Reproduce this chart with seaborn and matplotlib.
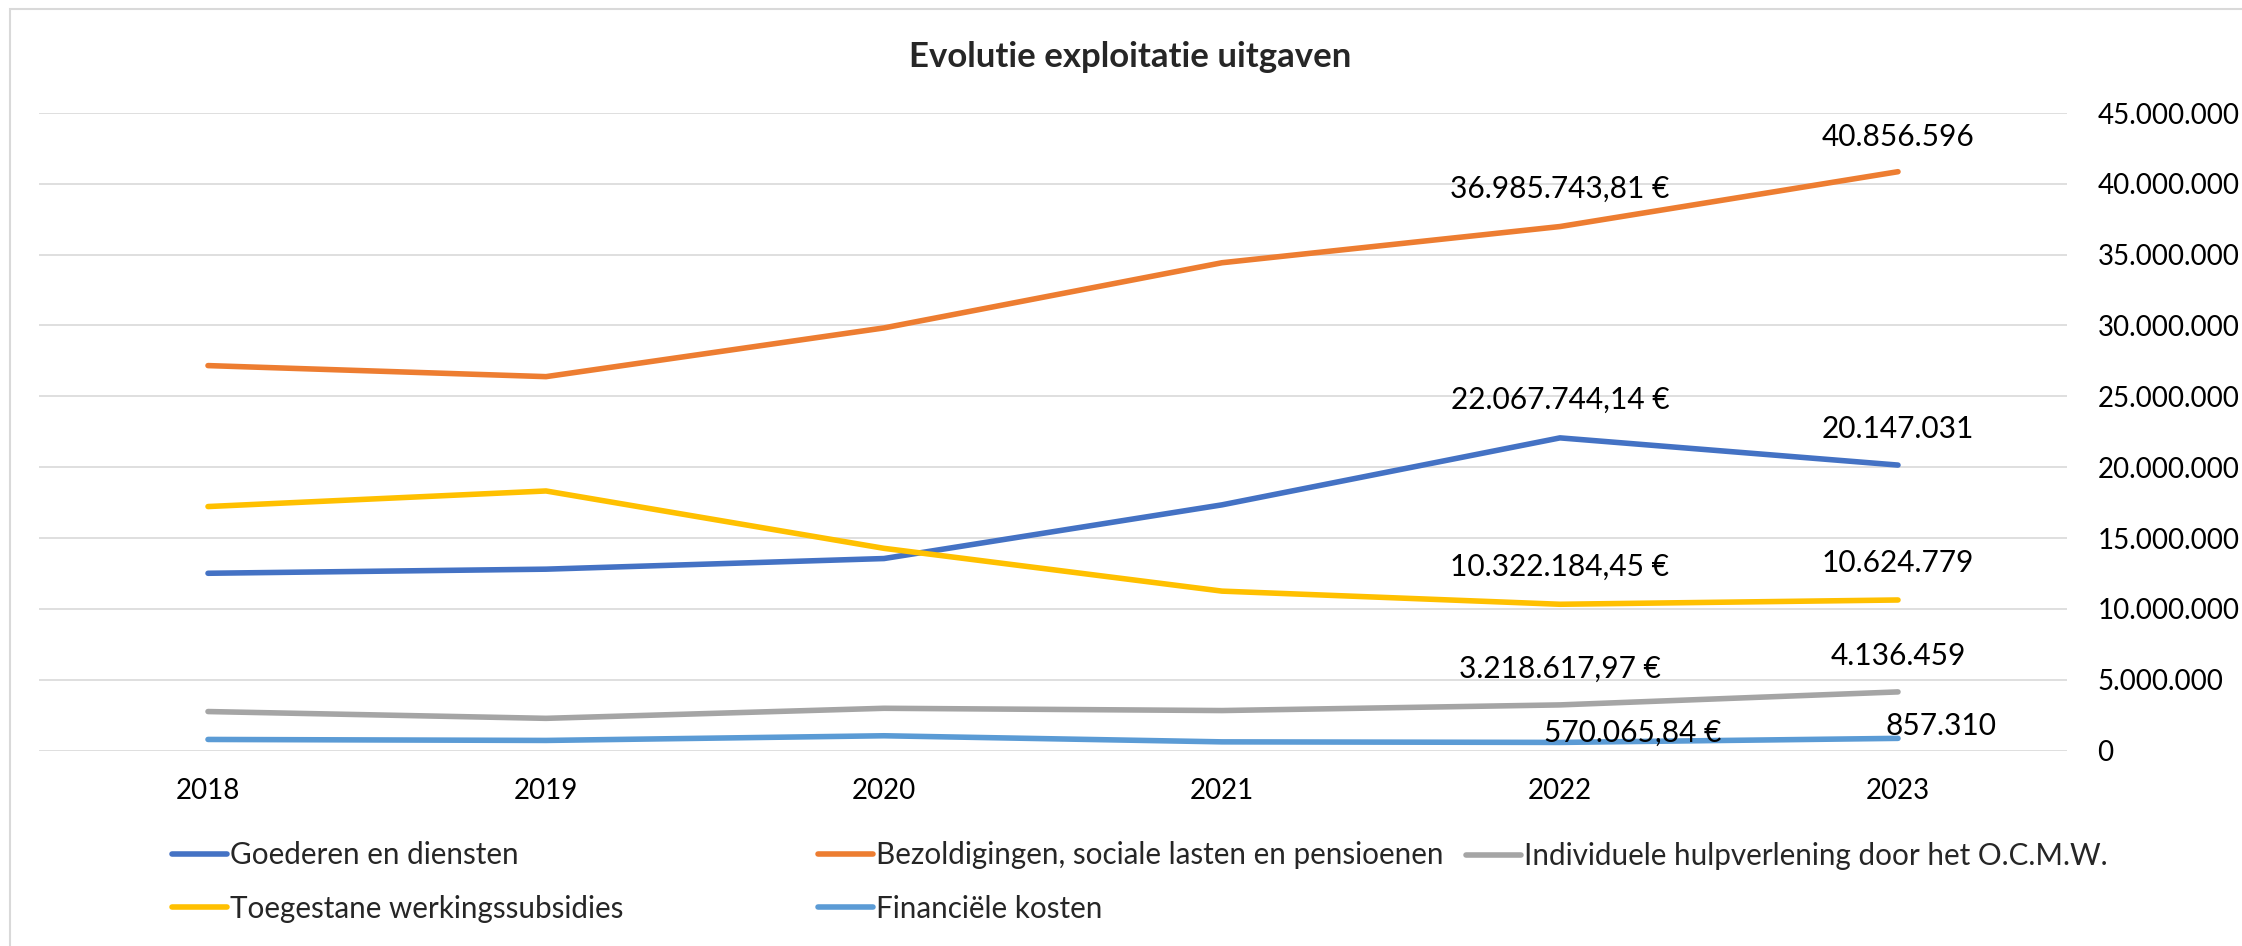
import matplotlib
matplotlib.use("Agg")
import matplotlib.pyplot as plt
import matplotlib.patches as patches
from matplotlib.lines import Line2D
from matplotlib.ticker import FuncFormatter
import pandas as pd
import seaborn as sns

# --- DATOS ---
jaren = ["2018", "2019", "2020", "2021", "2022", "2023"]

goederen = [12510000, 12800000, 13550000, 17340000, 22067744.14, 20147031]
bezoldigingen = [27170000, 26390000, 29830000, 34430000, 36985743.81, 40856596]
individuele = [2750000, 2270000, 2980000, 2820000, 3218617.97, 4136459]
toegestane = [17220000, 18320000, 14270000, 11250000, 10322184.45, 10624779]
financiele = [780000, 710000, 1040000, 610000, 570065.84, 857310]

reeksen = [
    "Goederen en diensten",
    "Bezoldigingen, sociale lasten en pensioenen",
    "Individuele hulpverlening door het O.C.M.W.",
    "Toegestane werkingssubsidies",
    "Financiële kosten",
]
waarden = [goederen, bezoldigingen, individuele, toegestane, financiele]
kleuren = ["#4472C4", "#ED7D31", "#A5A5A5", "#FFC000", "#5B9BD5"]

# lange tabel voor seaborn
rijen = []
for naam, reeks in zip(reeksen, waarden):
    for i, v in enumerate(reeks):
        rijen.append({"pos": i, "jaar": jaren[i], "reeks": naam, "waarde": v})
df = pd.DataFrame(rijen)


def nl_getal(v, decimalen=0):
    s = f"{v:,.{decimalen}f}"
    return s.replace(",", "#").replace(".", ",").replace("#", ".")


sns.set_theme(style="white")
plt.rcParams["font.family"] = ["Lato", "DejaVu Sans"]

W, H = 2242, 946
fig = plt.figure(figsize=(W / 100, H / 100), dpi=100)
ax = fig.add_axes([39 / W, 1 - 750.5 / H, 2028 / W, 637.5 / H])

sns.lineplot(data=df, x="pos", y="waarde", hue="reeks", hue_order=reeksen,
             palette=kleuren, linewidth=4, legend=False, ax=ax,
             solid_capstyle="round")

ax.set_xlim(-0.5, 5.5)
ax.set_ylim(0, 45000000)
ax.set_yticks(range(0, 45000001, 5000000))
ax.yaxis.set_major_formatter(FuncFormatter(lambda v, p: nl_getal(v)))
ax.yaxis.tick_right()
ax.set_xticks(range(len(jaren)))
ax.set_xticklabels(jaren)
ax.tick_params(axis="y", length=0, pad=22, labelsize=20, labelcolor="black")
ax.tick_params(axis="x", length=0, pad=20, labelsize=20, labelcolor="black")
ax.set_xlabel("")
ax.set_ylabel("")
ax.grid(axis="y", color="#D9D9D9", linewidth=1.2)
ax.grid(axis="x", visible=False)
for s in ax.spines.values():
    s.set_visible(False)

# datalabels 2022 (met euro) en 2023
offsets_2022 = [(0, 38), (0, 38), (0, 36), (0, 37), (73, 10)]
offsets_2023 = [(0, 36), (0, 35), (0, 36), (0, 37), (43, 12)]
for reeks, o22, o23 in zip(waarden, offsets_2022, offsets_2023):
    ax.annotate(nl_getal(reeks[4], 2) + " €", (4, reeks[4]), xytext=o22,
                textcoords="offset pixels", ha="center", va="center",
                fontsize=21.5, color="black")
    ax.annotate(nl_getal(reeks[5]), (5, reeks[5]), xytext=o23,
                textcoords="offset pixels", ha="center", va="center",
                fontsize=21.5, color="black")

fig.text(1130 / W, 1 - 57 / H, "Evolutie exploitatie uitgaven",
         ha="center", va="center", fontsize=25, fontweight="bold")

# legenda in drie kolommen zoals in Excel
handles = [Line2D([], [], color=c, linewidth=4, solid_capstyle="round") for c in kleuren]
kolommen = [([0, 3], 172, 882), ([1, 4], 818, 882), ([2], 1466, 856)]
for idx, xpos, ypos in kolommen:
    leg = fig.legend([handles[i] for i in idx], [reeksen[i] for i in idx],
                     loc="center left", bbox_to_anchor=(xpos / W, 1 - ypos / H),
                     frameon=False, fontsize=21.3, borderpad=0, borderaxespad=0,
                     handlelength=1.85, handletextpad=0.1, labelspacing=0.85)

# rand van het grafiekgebied
fig.patches.append(patches.Rectangle((10 / W, -0.1), 1.2, 1.1 - 9.5 / H,
                                     transform=fig.transFigure, fill=False,
                                     edgecolor="#D9D9D9", linewidth=1.5))

fig.savefig("out.png", dpi=100)
